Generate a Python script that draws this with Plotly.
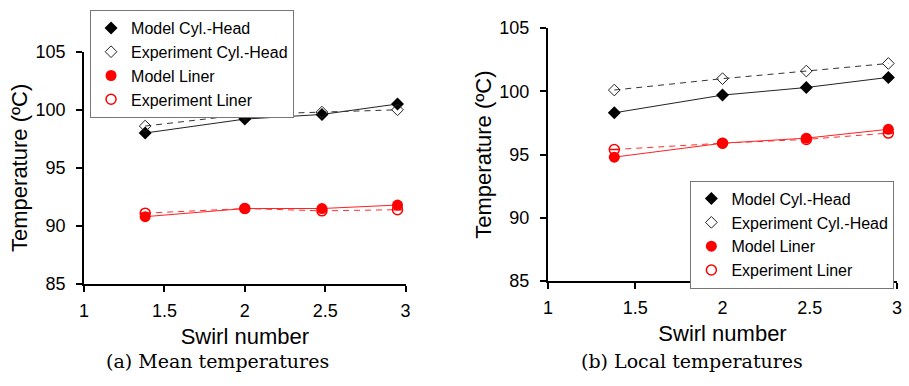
import plotly.graph_objects as go

swirl = [1.38, 2.0, 2.48, 2.95]

# (a) Mean temperatures
mean_model_head = [98.0, 99.2, 99.6, 100.5]
mean_exp_head = [98.6, 99.6, 99.8, 100.0]
mean_model_liner = [90.8, 91.5, 91.5, 91.8]
mean_exp_liner = [91.1, 91.5, 91.3, 91.4]

# (b) Local temperatures
local_model_head = [98.3, 99.7, 100.3, 101.1]
local_exp_head = [100.1, 101.0, 101.6, 102.2]
local_model_liner = [94.8, 95.9, 96.3, 97.0]
local_exp_liner = [95.4, 95.9, 96.2, 96.7]

names = ["Model Cyl.-Head", "Experiment Cyl.-Head", "Model Liner", "Experiment Liner"]
x_ticks = [1, 1.5, 2, 2.5, 3]
y_ticks = [85, 90, 95, 100, 105]
captions = ["(a) Mean temperatures", "(b) Local temperatures"]

fig = go.Figure()

line_styles = [
    dict(color="#222222", width=1),
    dict(color="#333333", width=1, dash="6px,5px"),
    dict(color="#ff2020", width=1),
    dict(color="#ff3030", width=1, dash="6px,5px"),
]
marker_styles = [
    dict(symbol="diamond", size=10, color="black"),
    dict(symbol="diamond-open", size=9, color="#222222", line=dict(width=1)),
    dict(symbol="circle", size=11, color="#ff0000"),
    dict(symbol="circle-open", size=10, color="#ff0000", line=dict(width=1.5)),
]

def add_panel(xa, ya, leg, data):
    # connecting lines (not in legend)
    for series, ls in zip(data, line_styles):
        fig.add_trace(go.Scatter(x=swirl, y=series, mode="lines", line=ls, showlegend=False,
                                 hoverinfo="skip", xaxis=xa, yaxis=ya))
    # markers (in legend)
    for series, name, ms in zip(data, names, marker_styles):
        fig.add_trace(go.Scatter(x=swirl, y=series, name=name, mode="markers", marker=ms,
                                 xaxis=xa, yaxis=ya, legend=leg))
    # minus bar inside the open red circles
    fig.add_trace(go.Scatter(x=swirl, y=data[3], mode="markers", showlegend=False,
                             marker=dict(symbol="line-ew", size=6, color="#ff0000",
                                         line=dict(width=1.5, color="#ff0000")),
                             xaxis=xa, yaxis=ya, hoverinfo="skip"))

add_panel("x", "y", "legend", [mean_model_head, mean_exp_head, mean_model_liner, mean_exp_liner])
add_panel("x2", "y2", "legend2", [local_model_head, local_exp_head, local_model_liner, local_exp_liner])

axis_font = dict(family="Liberation Sans, Arial, sans-serif", size=18, color="black")
title_font = dict(family="Liberation Sans, Arial, sans-serif", size=22, color="black")

common_x = dict(range=[1, 3], tickvals=x_ticks, ticktext=[str(t) for t in x_ticks],
                showline=True, linecolor="black", linewidth=2, ticks="outside",
                ticklen=6, tickwidth=2, tickcolor="black", showgrid=False, zeroline=False,
                ticklabelstandoff=3,
                tickfont=axis_font, title=dict(text="Swirl number", font=title_font, standoff=9))
common_y = dict(range=[85, 105], tickvals=y_ticks,
                showline=True, linecolor="black", linewidth=2, ticks="outside",
                ticklen=6, tickwidth=2, tickcolor="black", showgrid=False, zeroline=False,
                ticklabelstandoff=7,
                tickfont=axis_font, title=dict(text="Temperature (ºC)", font=title_font, standoff=2))

legend_common = dict(bgcolor="rgba(255,255,255,1)", bordercolor="#777777", borderwidth=1,
                     font=dict(family="Liberation Sans, Arial, sans-serif", size=16, color="black"),
                     xanchor="left", yanchor="top", tracegroupgap=0, itemwidth=30)

caption_font = dict(family="DejaVu Serif, serif", size=19, color="black")

fig.update_layout(
    width=909, height=386,
    margin=dict(l=0, r=0, t=0, b=0),
    paper_bgcolor="white", plot_bgcolor="white",
    xaxis=dict(domain=[80/909, 405/909], anchor="y", **common_x),
    yaxis=dict(domain=[1-289/386, 1-44/386], anchor="x", **common_y),
    xaxis2=dict(domain=[549/909, 902/909], anchor="y2", **common_x),
    yaxis2=dict(domain=[1-286/386, 1-19/386], anchor="x2", **common_y),
    legend=dict(x=86/909, y=1.0, **legend_common),
    legend2=dict(x=693/909, y=1-180/386, **legend_common),
    annotations=[
        dict(text=captions[0], x=215/909, y=1-370/386, xref="paper", yref="paper",
             showarrow=False, xanchor="center", yanchor="middle", font=caption_font),
        dict(text=captions[1], x=695/909, y=1-370/386, xref="paper", yref="paper",
             showarrow=False, xanchor="center", yanchor="middle", font=caption_font),
    ],
)

fig.write_html("out.html")
